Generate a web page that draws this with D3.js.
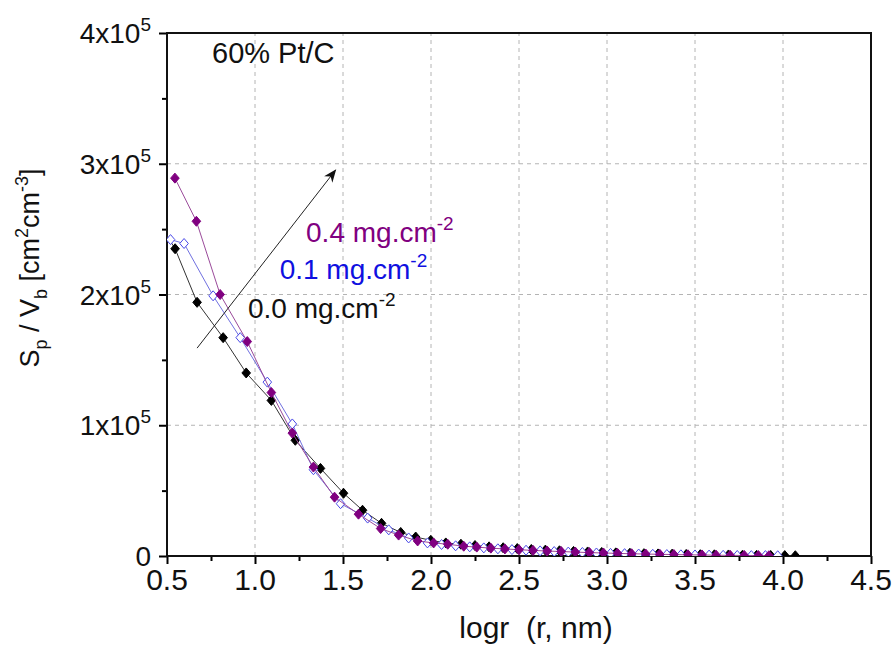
<!DOCTYPE html>
<html>
<head>
<meta charset="utf-8">
<script src="https://cdn.jsdelivr.net/npm/d3@7"></script>
<style>
  body { margin: 0; background: #fff; }
  text { font-family: "Liberation Sans", Arial, sans-serif; }
</style>
</head>
<body>
<svg id="chart"></svg>
<script>
// black: 0.0 mg.cm-2
var blackX = [0.43, 0.546, 0.671, 0.819, 0.95, 1.093, 1.229, 1.372, 1.503, 1.611, 1.719, 1.828, 1.913, 1.999, 2.084, 2.17, 2.25, 2.33, 2.41, 2.49, 2.57, 2.65, 2.73, 2.81, 2.89, 2.97, 3.05, 3.13, 3.21, 3.29, 3.37, 3.45, 3.53, 3.61, 3.69, 3.77, 3.85, 3.93, 4.01, 4.07];
var blackY = [2.6, 2.35, 1.94, 1.67, 1.40, 1.19, 0.885, 0.67, 0.48, 0.35, 0.25, 0.18, 0.145, 0.12, 0.10, 0.09, 0.08, 0.07, 0.063, 0.057, 0.05, 0.045, 0.04, 0.035, 0.031, 0.027, 0.024, 0.021, 0.018, 0.016, 0.014, 0.012, 0.010, 0.009, 0.008, 0.006, 0.005, 0.004, 0.003, 0.002];

// blue: 0.1 mg.cm-2
var blueX = [0.52, 0.597, 0.762, 0.916, 1.07, 1.212, 1.332, 1.486, 1.64, 1.76, 1.873, 1.98, 2.06, 2.14, 2.22, 2.30, 2.38, 2.46, 2.54, 2.62, 2.70, 2.78, 2.86, 2.94, 3.02, 3.10, 3.18, 3.26, 3.34, 3.42, 3.50, 3.58, 3.66, 3.74, 3.82, 3.90, 3.97];
var blueY = [2.42, 2.39, 1.99, 1.67, 1.33, 1.01, 0.66, 0.40, 0.29, 0.20, 0.138, 0.10, 0.088, 0.078, 0.07, 0.062, 0.055, 0.049, 0.044, 0.039, 0.034, 0.030, 0.027, 0.023, 0.020, 0.018, 0.015, 0.013, 0.011, 0.009, 0.008, 0.007, 0.005, 0.004, 0.003, 0.003, 0.002];

// purple: 0.4 mg.cm-2
var purpleX = [0.545, 0.667, 0.802, 0.956, 1.093, 1.212, 1.332, 1.452, 1.588, 1.714, 1.816, 1.924, 2.015, 2.095, 2.186, 2.26, 2.34, 2.42, 2.50, 2.58, 2.66, 2.74, 2.82, 2.90, 2.98, 3.06, 3.14, 3.22, 3.30, 3.38, 3.46, 3.54, 3.62, 3.70, 3.78, 3.86, 3.92];
var purpleY = [2.89, 2.56, 2.0, 1.64, 1.25, 0.94, 0.68, 0.45, 0.32, 0.21, 0.16, 0.115, 0.10, 0.09, 0.075, 0.068, 0.06, 0.054, 0.048, 0.043, 0.038, 0.034, 0.030, 0.026, 0.023, 0.020, 0.017, 0.015, 0.013, 0.011, 0.009, 0.008, 0.006, 0.005, 0.004, 0.003, 0.002];

var xTicks = [0.5, 1.0, 1.5, 2.0, 2.5, 3.0, 3.5, 4.0, 4.5];
var yTicks = [0, 1, 2, 3, 4]; // x10^5

var screen = { width: 896, height: 650 };
var margins = { top: 33, bottom: 94, left: 167, right: 25 };

var svg = d3.select("#chart")
  .attr("width", screen.width)
  .attr("height", screen.height);

var x = d3.scaleLinear().domain([0.5, 4.5]).range([margins.left, screen.width - margins.right]);
var y = d3.scaleLinear().domain([0, 4]).range([screen.height - margins.bottom, margins.top]);

// clip
svg.append("clipPath").attr("id", "clip")
  .append("rect")
    .attr("x", x(0.5)).attr("y", y(4))
    .attr("width", x(4.5) - x(0.5)).attr("height", y(0) - y(4));

// grid
var grid = svg.append("g").attr("stroke", "#b4b4b4").attr("stroke-width", 1).attr("stroke-dasharray", "4,4");
grid.selectAll("line.gx").data(xTicks.slice(1, -1)).join("line")
  .attr("class", "gx")
  .attr("x1", d => x(d)).attr("x2", d => x(d))
  .attr("y1", y(0)).attr("y2", y(4));
grid.selectAll("line.gy").data(yTicks.slice(1, -1)).join("line")
  .attr("class", "gy")
  .attr("x1", x(0.5)).attr("x2", x(4.5))
  .attr("y1", d => y(d)).attr("y2", d => y(d));

// axes
var xAxis = d3.axisBottom(x).tickValues(xTicks).tickSize(8).tickFormat("");
var xMinor = d3.axisBottom(x).tickValues(xTicks.slice(0, -1).map(d => d + 0.25)).tickSize(5).tickFormat("");
var yAxis = d3.axisLeft(y).tickValues(yTicks).tickSize(8).tickFormat("");
var yMinor = d3.axisLeft(y).tickValues(yTicks.slice(0, -1).map(d => d + 0.5)).tickSize(5).tickFormat("");

svg.append("g").attr("transform", `translate(0,${y(0)})`).call(xAxis);
svg.append("g").attr("transform", `translate(0,${y(0)})`).call(xMinor);
svg.append("g").attr("transform", `translate(${x(0.5)},0)`).call(yAxis);
svg.append("g").attr("transform", `translate(${x(0.5)},0)`).call(yMinor);

svg.selectAll(".domain").remove();
svg.selectAll(".tick line").attr("stroke", "#000").attr("stroke-width", 2);

// x tick labels
svg.append("g").attr("font-size", 30).attr("fill", "#111").attr("text-anchor", "middle")
  .selectAll("text").data(xTicks).join("text")
    .attr("x", d => x(d)).attr("y", y(0) + 34)
    .text(d3.format(".1f"));

// y labels with superscripts
var ylab = svg.append("g").attr("font-size", 28).attr("fill", "#111").attr("text-anchor", "end");
ylab.selectAll("text").data(yTicks).join("text")
  .attr("x", x(0.5) - 16)
  .attr("y", d => y(d) + 10)
  .each(function(d) {
    var t = d3.select(this);
    if (d === 0) { t.text("0"); return; }
    t.append("tspan").text(d + "x10");
    t.append("tspan").attr("font-size", 19).attr("dy", -12).text("5");
  });

// frame
svg.append("rect")
  .attr("x", x(0.5)).attr("y", y(4))
  .attr("width", x(4.5) - x(0.5)).attr("height", y(0) - y(4))
  .attr("fill", "none").attr("stroke", "#111").attr("stroke-width", 2);

// series
var series = [
  { xs: blackX, ys: blackY, line: "#333", fill: "#000", stroke: "#000" },
  { xs: blueX, ys: blueY, line: "#7070e0", fill: "#fff", stroke: "#4a4ae8" },
  { xs: purpleX, ys: purpleY, line: "#9a4a9a", fill: "#800080", stroke: "#800080" }
];

var plot = svg.append("g").attr("clip-path", "url(#clip)");
var line = d3.line().x(d => x(d[0])).y(d => y(d[1]));
var diamondType = {
  draw: function(ctx, size) {
    var rx = 4.3, ry = 5;
    ctx.moveTo(0, -ry); ctx.lineTo(rx, 0); ctx.lineTo(0, ry); ctx.lineTo(-rx, 0); ctx.closePath();
  }
};
var diamond = d3.symbol().type(diamondType);

series.forEach(function(s) {
  var pts = s.xs.map((v, i) => [v, s.ys[i]]);
  plot.append("path").datum(pts)
    .attr("d", line).attr("fill", "none").attr("stroke", s.line).attr("stroke-width", 1);
  plot.selectAll(null).data(pts).join("path")
    .attr("d", diamond)
    .attr("transform", d => `translate(${x(d[0])},${y(d[1])})`)
    .attr("fill", s.fill).attr("stroke", s.stroke).attr("stroke-width", 1);
});

// arrow
svg.append("defs").append("marker")
  .attr("id", "arr").attr("viewBox", "0 0 10 10").attr("refX", 9).attr("refY", 5)
  .attr("markerWidth", 13).attr("markerHeight", 13).attr("markerUnits", "userSpaceOnUse")
  .attr("orient", "auto")
  .append("path").attr("d", "M0,1 L10,5 L0,9 L3,5 Z").attr("fill", "#111");
svg.append("line")
  .attr("x1", x(0.671)).attr("y1", y(1.59))
  .attr("x2", x(1.457)).attr("y2", y(2.95))
  .attr("stroke", "#222").attr("stroke-width", 1).attr("marker-end", "url(#arr)");

// annotations
function label(txt, px, py, color) {
  var t = svg.append("text").attr("x", px).attr("y", py).attr("font-size", 28).attr("fill", color);
  t.append("tspan").text(txt);
  t.append("tspan").attr("font-size", 19).attr("dy", -12).text("-2");
}
label("0.4 mg.cm", x(1.29), y(2.4), "#800080");
label("0.1 mg.cm", x(1.14), y(2.12), "#1010e0");
label("0.0 mg.cm", x(0.96), y(1.82), "#111");

svg.append("text").attr("x", 212).attr("y", y(3.8) + 4).attr("font-size", 29).attr("fill", "#111")
  .text("60% Pt/C");

// axis titles
svg.append("text").attr("x", 536).attr("y", 638).attr("text-anchor", "middle")
  .attr("font-size", 30).attr("fill", "#111").attr("xml:space", "preserve")
  .text("logr  (r, nm)");

var yt = svg.append("text").attr("transform", "translate(39,268) rotate(-90)")
  .attr("text-anchor", "middle").attr("font-size", 27).attr("fill", "#111");
yt.append("tspan").text("S");
yt.append("tspan").attr("font-size", 18).attr("dy", 8).text("p");
yt.append("tspan").attr("dy", -8).text(" / V");
yt.append("tspan").attr("font-size", 18).attr("dy", 8).text("b");
yt.append("tspan").attr("dy", -8).text(" [cm");
yt.append("tspan").attr("font-size", 18).attr("dy", -11).text("2");
yt.append("tspan").attr("dy", 11).text("cm");
yt.append("tspan").attr("font-size", 18).attr("dy", -11).text("-3");
yt.append("tspan").attr("dy", 11).text("]");
</script>
</body>
</html>
